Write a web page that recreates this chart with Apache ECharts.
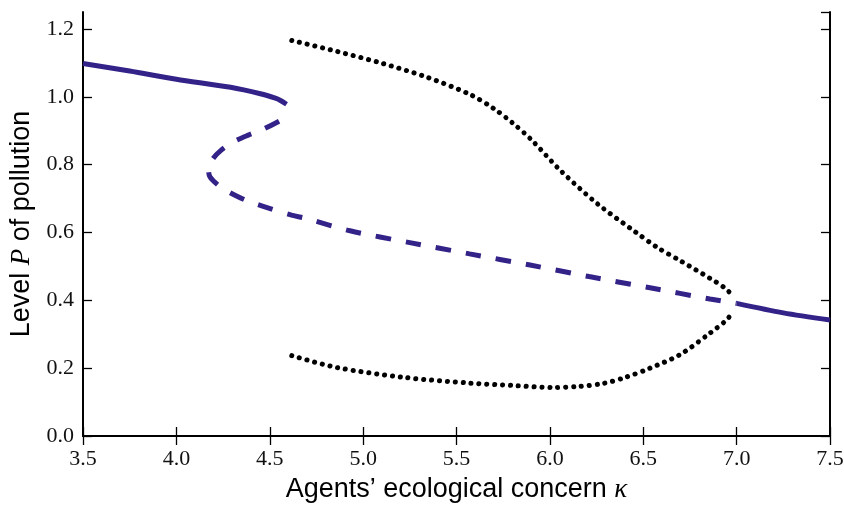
<!DOCTYPE html>
<html>
<head>
<meta charset="utf-8">
<script src="https://cdn.jsdelivr.net/npm/echarts@6/dist/echarts.min.js"></script>
<style>
html,body{margin:0;padding:0;background:#fff;}
#chart{width:844px;height:505px;}
</style>
</head>
<body>
<div id="chart"></div>
<script>
//横轴刻度
var xTicks = [3.5, 4.0, 4.5, 5.0, 5.5, 6.0, 6.5, 7.0, 7.5];
//纵轴刻度
var yTicks = [0.0, 0.2, 0.4, 0.6, 0.8, 1.0, 1.2];

//稳定分支（上）
var stableHigh = [[3.5,1.098],[3.75,1.076],[4.0,1.052],[4.29,1.028],[4.45,1.009],[4.53,0.996],[4.555,0.99],[4.59,0.978]];
//不稳定分支（虚线）
var unstable = [[4.55,0.928],[4.46,0.903],[4.385,0.887],[4.305,0.867],[4.24,0.843],[4.195,0.817],[4.172,0.79],[4.18,0.764],[4.24,0.733],[4.314,0.71],[4.385,0.692],[4.465,0.677],[4.617,0.651],[4.697,0.641],[4.93,0.605],[5.25,0.570],[5.57,0.537],[5.894,0.504],[6.21,0.470],[6.536,0.437],[6.857,0.404],[7.0,0.391]];
//稳定分支（下）
var stableLow = [[7.0,0.391],[7.25,0.363],[7.5,0.342]];
//点线上半
var dotsUpper = [[4.618,1.166],[4.858,1.134],[5.10,1.099],[5.34,1.058],[5.572,1.007],[5.70,0.965],[5.80,0.923],[5.90,0.874],[6.058,0.782],[6.256,0.684],[6.457,0.602],[6.575,0.556],[6.697,0.517],[6.857,0.465],[6.938,0.436],[6.98,0.413]];
//点线下半
var dotsLower = [[4.618,0.237],[4.858,0.202],[5.215,0.173],[5.572,0.156],[5.80,0.149],[6.018,0.143],[6.15,0.146],[6.286,0.155],[6.40,0.172],[6.536,0.200],[6.697,0.240],[6.857,0.303],[6.938,0.338],[6.98,0.364]];

var blue = '#332288';
var serif = 'Liberation Serif';
var sans = 'Liberation Sans';

var chart = echarts.init(document.getElementById('chart'));

function fmt(v){
	return Number(v).toFixed(1);
}

var frameAxis = {
	axisLine: {show: true, lineStyle: {color: '#000', width: 2}},
	axisTick: {show: true, inside: true, length: 9, lineStyle: {color: '#000', width: 1.3}},
	splitLine: {show: false}
};

var nameRich = {
	a: {fontFamily: sans, fontSize: 27, color: '#000'},
	b: {fontFamily: serif, fontStyle: 'italic', fontSize: 27, color: '#000'}
};

var option = {
	animation: false,
	grid: {left: 83, right: 14, top: 12, bottom: 69, containLabel: false, outerBoundsMode: 'none'},
	xAxis: [{
		type: 'value',
		min: xTicks[0], max: xTicks[xTicks.length - 1], interval: 0.5,
		position: 'bottom',
		axisLine: frameAxis.axisLine, axisTick: frameAxis.axisTick, splitLine: frameAxis.splitLine,
		axisLabel: {formatter: fmt, fontFamily: serif, fontSize: 22, color: '#111', margin: 12},
		name: '{a|Agents\u2019 ecological concern }{b|\u03ba}',
		nameLocation: 'middle',
		nameGap: 40,
		nameTextStyle: {rich: nameRich}
	}, {
		type: 'value',
		min: xTicks[0], max: xTicks[xTicks.length - 1], interval: 0.5,
		position: 'top',
		axisLine: frameAxis.axisLine, axisTick: frameAxis.axisTick, splitLine: frameAxis.splitLine,
		axisLabel: {show: false}
	}],
	yAxis: [{
		type: 'value',
		min: yTicks[0], max: 1.25, interval: 0.2,
		position: 'left',
		axisLine: frameAxis.axisLine, axisTick: frameAxis.axisTick, splitLine: frameAxis.splitLine,
		axisLabel: {formatter: fmt, fontFamily: serif, fontSize: 22, color: '#111', margin: 9},
		name: '{a|Level }{b|P}{a| of pollution}',
		nameLocation: 'middle',
		nameRotate: 90,
		nameGap: 48,
		nameTextStyle: {rich: nameRich}
	}, {
		type: 'value',
		min: yTicks[0], max: 1.25, interval: 0.2,
		position: 'right',
		axisLine: frameAxis.axisLine, axisTick: frameAxis.axisTick, splitLine: frameAxis.splitLine,
		axisLabel: {show: false}
	}],
	series: [{
		type: 'line', data: stableHigh, showSymbol: false, smooth: 0.3,
		lineStyle: {color: blue, width: 5, cap: 'butt'}
	}, {
		type: 'line', data: unstable, showSymbol: false, smooth: 0.3,
		lineStyle: {color: blue, width: 5, type: [15.5, 15], cap: 'butt'}
	}, {
		type: 'line', data: stableLow, showSymbol: false, smooth: 0.3,
		lineStyle: {color: blue, width: 5, cap: 'butt'}
	}, {
		type: 'line', data: dotsUpper, showSymbol: false, smooth: 0.3,
		lineStyle: {color: '#000', width: 5, type: [0.1, 7.8], cap: 'round'}
	}, {
		type: 'line', data: dotsLower, showSymbol: false, smooth: 0.3,
		lineStyle: {color: '#000', width: 5, type: [0.1, 7.8], cap: 'round'}
	}]
};

chart.setOption(option);
</script>
</body>
</html>
